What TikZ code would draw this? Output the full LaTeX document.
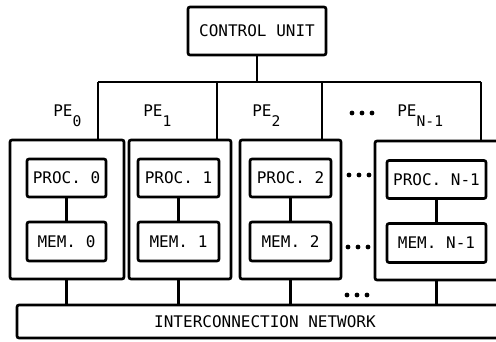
\documentclass[tikz,border=0pt]{standalone}
\usepackage{fontspec}
\setmonofont{DejaVu Sans Mono}
\newcommand{\pelab}[1]{PE\raisebox{-7.5pt}{\fontsize{11}{12}\selectfont #1}}
\begin{document}
\begin{tikzpicture}[x=0.75pt, y=-0.75pt, line width=2pt,
    font=\ttfamily\fontsize{12}{14}\selectfont,
    box/.style={draw, rectangle, rounded corners=1.5pt, inner sep=0pt},
    dot/.style={fill, circle, inner sep=0pt, minimum size=3.6pt}]
    \useasboundingbox (0,0) rectangle (496,342);
    \clip (0,0) rectangle (496,342);

    \node (cu) [box, minimum width=103.5pt, minimum height=36pt] at (257,31) {CONTROL UNIT};

    \node (pe0) [box, minimum width=85.5pt, minimum height=104.25pt] at (67,209.5) {};
    \node (pe1) [box, minimum width=76.5pt, minimum height=104.25pt] at (180,209.5) {};
    \node (pe2) [box, minimum width=75.75pt, minimum height=104.25pt] at (290.5,209.5) {};
    \node (pe3) [box, minimum width=93pt, minimum height=104.25pt] at (437,210.5) {};

    \node (p0) [box, minimum width=59.25pt, minimum height=28.5pt] at (66.5,178) {PROC. 0};
    \node (m0) [box, minimum width=59.25pt, minimum height=29.25pt] at (66.5,241.5) {MEM. 0};
    \node (p1) [box, minimum width=60.75pt, minimum height=28.5pt] at (178.5,178) {PROC. 1};
    \node (m1) [box, minimum width=60.75pt, minimum height=29.25pt] at (178.5,241.5) {MEM. 1};
    \node (p2) [box, minimum width=60.75pt, minimum height=28.5pt] at (290.5,178) {PROC. 2};
    \node (m2) [box, minimum width=60.75pt, minimum height=29.25pt] at (290.5,241.5) {MEM. 2};
    \node (p3) [box, minimum width=74.25pt, minimum height=28.5pt] at (436.5,179.5) {PROC. N-1};
    \node (m3) [box, minimum width=74.25pt, minimum height=29.25pt] at (436.5,243) {MEM. N-1};

    \node (net) [box, minimum width=372pt, minimum height=24.75pt] at (265,321.5) {INTERCONNECTION NETWORK};

    \node (l0) [anchor=base west, inner sep=0pt] at (52,117) {\pelab{0}};
    \node (l1) [anchor=base west, inner sep=0pt] at (142,117) {\pelab{1}};
    \node (l2) [anchor=base west, inner sep=0pt] at (251,117) {\pelab{2}};
    \node (l3) [anchor=base west, inner sep=0pt] at (396,117) {\pelab{N-1}};

    \foreach \x/\y [count=\k] in {362/113, 359/175, 358/247, 357/295}
        \foreach \d in {-10,0,10}
            \node (d\k\d) [dot] at (\x+\d,\y) {};

    \coordinate (t0) at (98,82);
    \coordinate (t1) at (217,82);
    \coordinate (t2) at (322,82);
    \coordinate (t3) at (481,82);

    \draw (cu.south) -- (cu.south |- t0);
    \draw (t0) -- (t3);
    \foreach \i in {0,...,3} {
        \draw (t\i) -- (t\i |- pe\i.north);
        \draw (p\i) -- (m\i);
        \draw (m\i |- pe\i.south) -- (m\i |- net.north);
    }
\end{tikzpicture}
\end{document}
